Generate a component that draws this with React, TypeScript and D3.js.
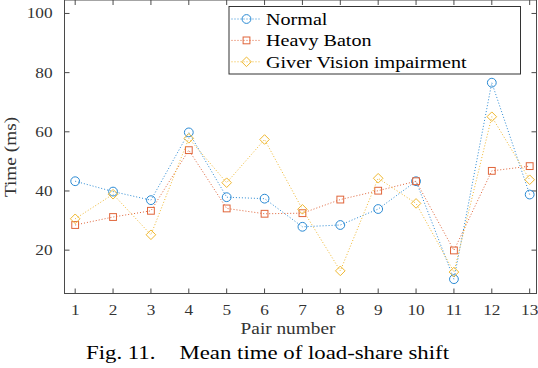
import React from "react";
import * as d3 from "d3";

const pairs = [1, 2, 3, 4, 5, 6, 7, 8, 9, 10, 11, 12, 13];
const normal = [43.3, 39.8, 36.9, 59.8, 37.9, 37.4, 27.9, 28.5, 33.9, 43.3, 10.2, 76.6, 38.8];
const heavyBaton = [28.5, 31.2, 33.3, 53.8, 34.1, 32.3, 32.5, 37.1, 40.1, 43.3, 19.9, 46.8, 48.4];
const giverVision = [30.6, 38.9, 25.2, 57.8, 42.8, 57.4, 33.8, 13.0, 44.3, 35.8, 12.6, 65.1, 43.8];
const seriesNames = ["Normal", "Heavy Baton", "Giver Vision impairment"];
const yTicks = [20, 40, 60, 80, 100];
const xLabel = "Pair number";
const yLabel = "Time (ms)";
const caption1 = "Fig. 11.";
const caption2 = "Mean time of load-share shift";

const colors = ["#2a8ad4", "#e0653a", "#f0b830"];
const markers = ["circle", "square", "diamond"];

const W = 538, H = 368;
const L = 64.5, R = 536.5, T = 0, B = 293.5;
const FONT = "'Liberation Serif', 'Times New Roman', serif";

function Marker({ type, x, y, color }: { type: string; x: number; y: number; color: string }) {
  if (type === "circle") return <circle cx={x} cy={y} r={4.4} fill="none" stroke={color} strokeWidth={1} />;
  if (type === "square") return <rect x={x - 3.4} y={y - 3.4} width={6.8} height={6.8} fill="none" stroke={color} strokeWidth={1} />;
  const s = 4.8;
  return <path d={`M${x},${y - s}L${x + s},${y}L${x},${y + s}L${x - s},${y}Z`} fill="none" stroke={color} strokeWidth={1} />;
}

function SText({ x, y, sx, size, anchor, children, fill, rotate }: any) {
  const tr = rotate ? `translate(${x},${y}) rotate(${rotate}) scale(${sx},1)` : `translate(${x},${y}) scale(${sx},1)`;
  return (
    <g transform={tr}>
      <text x={0} y={0} fontSize={size} textAnchor={anchor || "start"} fill={fill || "#000"} fontFamily={FONT}>
        {children}
      </text>
    </g>
  );
}

export default function App() {
  const x = d3.scaleLinear().domain([0.718, 13.18]).range([L, R]);
  const y = d3.scaleLinear().domain([5.35, 104.55]).range([B, T]);
  const data = [normal, heavyBaton, giverVision];
  const line = d3
    .line<number>()
    .x((_, i) => x(pairs[i]))
    .y((d) => y(d));
  const axisColor = "#4a4a4a";
  const tickLen = 5;

  return (
    <svg width={W} height={H} style={{ position: "absolute", left: 0, top: 0, background: "#fff" }}>
      <rect x={0} y={0} width={W} height={H} fill="#fff" />
      {/* box */}
      <rect x={L} y={T} width={R - L} height={B - T} fill="none" stroke={axisColor} strokeWidth={1} />
      {pairs.map((p) => (
        <g key={"xt" + p}>
          <line x1={x(p)} x2={x(p)} y1={B} y2={B - tickLen} stroke={axisColor} />
          <line x1={x(p)} x2={x(p)} y1={T} y2={T + tickLen} stroke={axisColor} />
          <SText x={x(p)} y={314.5} sx={1.15} size={15} anchor="middle" fill="#333">
            {p}
          </SText>
        </g>
      ))}
      {yTicks.map((t) => (
        <g key={"yt" + t}>
          <line x1={L} x2={L + tickLen} y1={y(t)} y2={y(t)} stroke={axisColor} />
          <line x1={R} x2={R - tickLen} y1={y(t)} y2={y(t)} stroke={axisColor} />
          <SText x={52.5} y={y(t) + 5} sx={1.15} size={15} anchor="end" fill="#333">
            {t}
          </SText>
        </g>
      ))}
      <SText x={288} y={334} sx={1.17} size={16.5} anchor="middle" fill="#333">
        {xLabel}
      </SText>
      <SText x={16} y={157} sx={1.17} size={16.5} anchor="middle" fill="#333" rotate={-90}>
        {yLabel}
      </SText>
      {/* series */}
      {data.map((vals, si) => (
        <g key={"s" + si}>
          <path d={line(vals) || ""} fill="none" stroke={colors[si]} strokeWidth={1} strokeDasharray="1 2" />
          {vals.map((v, i) => (
            <Marker key={i} type={markers[si]} x={x(pairs[i])} y={y(v)} color={colors[si]} />
          ))}
        </g>
      ))}
      {/* legend */}
      <rect x={229} y={6.5} width={291.5} height={67.5} fill="#fff" stroke="#333" strokeWidth={1} />
      {seriesNames.map((name, i) => {
        const ly = 19 + i * 21.4;
        return (
          <g key={"lg" + i}>
            <line x1={231.5} x2={261} y1={ly} y2={ly} stroke={colors[i]} strokeWidth={1} strokeDasharray="1 2" />
            <Marker type={markers[i]} x={246.5} y={ly} color={colors[i]} />
            <SText x={266} y={ly + 6} sx={1.15} size={17.5}>
              {name}
            </SText>
          </g>
        );
      })}
      {/* caption */}
      <SText x={86} y={359} sx={1.2} size={19}>
        {caption1}
      </SText>
      <SText x={449} y={359} sx={1.2} size={19} anchor="end">
        {caption2}
      </SText>
    </svg>
  );
}
